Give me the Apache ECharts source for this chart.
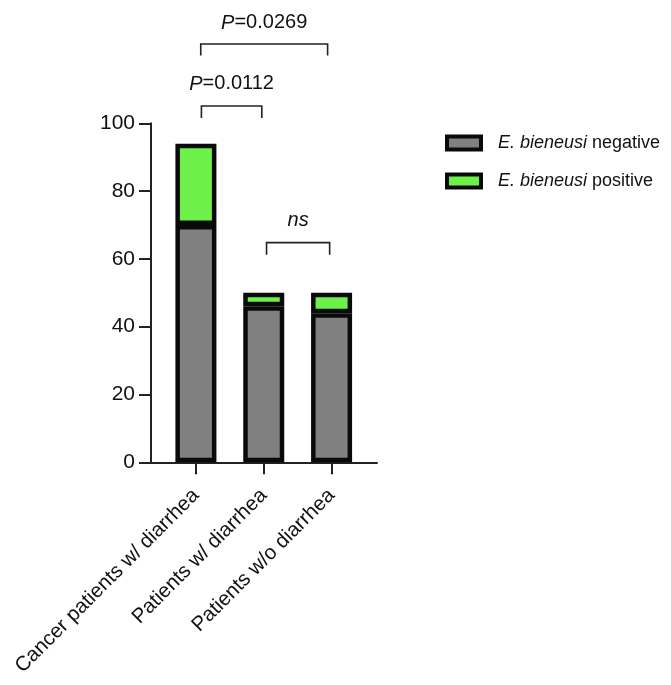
<!DOCTYPE html>
<html><head><meta charset="utf-8">
<script src="https://cdn.jsdelivr.net/npm/echarts@6/dist/echarts.min.js"></script>
<style>html,body{margin:0;padding:0;background:#fff}#c{width:671px;height:685px}</style>
</head><body><div id="c"></div>
<script>
var categories = ['Cancer patients w/ diarrhea', 'Patients w/ diarrhea', 'Patients w/o diarrhea'];
var negativeValues = [70, 46, 44];
var positiveValues = [24, 4, 6];
var yTicks = [0, 20, 40, 60, 80, 100];
// comparison brackets (category positions), bar top, leg bottom, label value, label
var bracketStart = [0.08, 0.07, 1.04];
var bracketEnd = [0.97, 1.94, 1.97];
var bracketTop = [105.1, 123.4, 64.8];
var bracketLeg = [101.6, 120.0, 61.2];
var bracketLabelY = [111.6, 129.6, 71.3];
var bracketLabels = ['{i|P}=0.0112', '{i|P}=0.0269', '{i|ns}'];

var FONT = '"Liberation Sans", Arial, sans-serif';
var chart = echarts.init(document.getElementById('c'));
var bracketData = bracketStart.map(function (s, i) {
  return [s, bracketEnd[i], bracketTop[i], bracketLeg[i], bracketLabelY[i], i];
});
var barStyle = { borderColor: '#0a0a0a', borderWidth: 4.5 };
var axisColor = '#222';
chart.setOption({
  animation: false,
  backgroundColor: '#fff',
  textStyle: { fontFamily: FONT },
  grid: [
    { left: 162, top: 123.3, width: 203.5, height: 339 },
    { left: 151, top: 123.3, width: 226, height: 339 }
  ],
  legend: {
    orient: 'vertical', left: 440, top: 129, itemWidth: 34, itemHeight: 13, itemGap: 20,
    icon: 'rect',
    itemStyle: { borderColor: '#0a0a0a', borderWidth: 4 },
    data: ['E. bieneusi negative', 'E. bieneusi positive'],
    formatter: function (n) { return '{i|E. bieneusi}' + n.replace('E. bieneusi', ''); },
    textStyle: {
      fontFamily: FONT, fontSize: 18, color: '#111', padding: [0, 0, 0, 12],
      rich: { i: { fontStyle: 'italic', fontSize: 18, fontFamily: FONT, color: '#111' } }
    }
  },
  xAxis: [
    {
      type: 'category', gridIndex: 0, data: categories,
      axisLine: { show: false },
      axisTick: { show: true, alignWithLabel: true, length: 12, lineStyle: { color: axisColor, width: 2 } },
      axisLabel: { rotate: 45, margin: 30, fontSize: 20.5, color: '#111', fontFamily: FONT, interval: 0 }
    },
    {
      type: 'value', gridIndex: 1, min: -0.663, max: 2.668,
      splitLine: { show: false }, axisTick: { show: false }, axisLabel: { show: false },
      axisLine: { show: true, lineStyle: { color: axisColor, width: 2 } }
    }
  ],
  yAxis: [
    {
      type: 'value', gridIndex: 0, min: 0, max: 100, interval: 20, show: false
    },
    {
      type: 'value', gridIndex: 1, min: 0, max: 100, interval: 20,
      splitLine: { show: false },
      axisLine: { show: true, onZero: false, lineStyle: { color: axisColor, width: 2 } },
      axisTick: { show: true, length: 12, lineStyle: { color: axisColor, width: 2 } },
      axisLabel: { fontSize: 21, color: '#111', margin: 16, fontFamily: FONT }
    }
  ],
  series: [
    {
      name: 'E. bieneusi negative', type: 'bar', stack: 's', barWidth: 41,
      itemStyle: Object.assign({ color: '#808080' }, barStyle),
      data: negativeValues
    },
    {
      name: 'E. bieneusi positive', type: 'bar', stack: 's', barWidth: 41,
      itemStyle: Object.assign({ color: '#6ef04a' }, barStyle),
      data: positiveValues
    },
    {
      type: 'custom', clip: false, silent: true, z: 10, xAxisIndex: 1, yAxisIndex: 1,
      data: bracketData,
      renderItem: function (params, api) {
        var x1 = api.value(0), x2 = api.value(1), top = api.value(2), leg = api.value(3), ly = api.value(4);
        var idx = api.value(5);
        var a = api.coord([x1, leg]), b = api.coord([x1, top]), c = api.coord([x2, top]), d = api.coord([x2, leg]);
        var t = api.coord([(x1 + x2) / 2, ly]);
        return {
          type: 'group',
          children: [
            { type: 'polyline', shape: { points: [a, b, c, d] }, style: { stroke: '#222', lineWidth: 1.6, fill: null } },
            { type: 'text', style: {
                text: bracketLabels[idx], x: t[0], y: t[1], align: 'center', verticalAlign: 'middle',
                fontSize: 20, fontFamily: FONT, fill: '#111',
                rich: { i: { fontStyle: 'italic', fontSize: 20, fontFamily: FONT, fill: '#111' } }
            } }
          ]
        };
      }
    }
  ]
});
</script></body></html>
